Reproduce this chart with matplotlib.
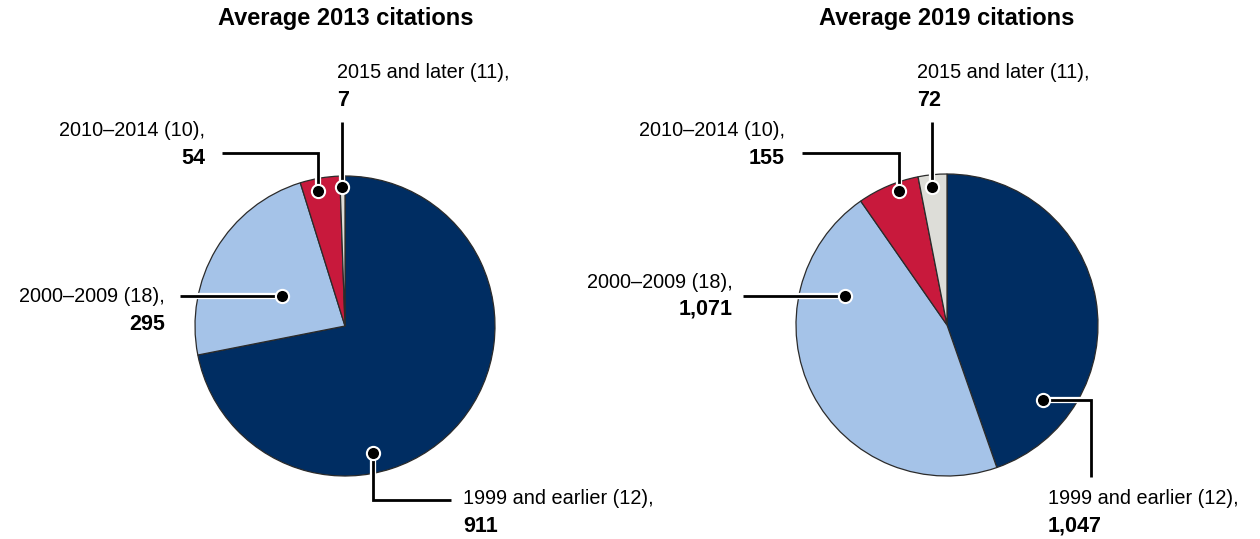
import matplotlib
matplotlib.use("Agg")
import matplotlib.pyplot as plt
import matplotlib.patheffects as pe

# Data
labels = ['1999 and earlier (12),', '2000\u20132009 (18),', '2010\u20132014 (10),', '2015 and later (11),']
cites_2013 = [911, 295, 54, 7]
cites_2019 = [1047, 1071, 155, 72]
titles = ['Average 2013 citations', 'Average 2019 citations']
colors = ['#002D62', '#A5C3E8', '#C8193C', '#DDDDD8']

W, H = 1260, 539
plt.rcParams['font.family'] = ['Liberation Sans', 'DejaVu Sans']

fig = plt.figure(figsize=(W / 100, H / 100), dpi=100)
ax = fig.add_axes([0, 0, 1, 1])

def fy(py):
    # convert pixel y (from top) to axes y
    return H - py

# pie layout: center x, center y, radius, title x
pies = [(345, 326, 150, 346), (947, 325, 151, 947)]

# callout layout per pie: (dot, path points, text x, text y line 1, text y line 2, ha)
callouts = [
    [((373, 453), [(373, 500), (451, 500)], 463, 499, 526, 'left'),
     ((282, 296), [(180, 296)], 165, 297, 324, 'right'),
     ((318, 191), [(318, 153), (222, 153)], 205, 131, 158, 'right'),
     ((342, 187), [(342, 122)], 337, 72, 100, 'left')],
    [((1043, 400), [(1091, 400), (1091, 477)], 1048, 499, 526, 'left'),
     ((845, 296), [(743, 296)], 733, 282, 309, 'right'),
     ((899, 191), [(899, 153), (802, 153)], 785, 131, 158, 'right'),
     ((932, 187), [(932, 122)], 917, 72, 100, 'left')],
]

halo = [pe.Stroke(linewidth=4.5, foreground='white'), pe.Normal()]

for (cx, cy, r, tx), vals, title, calls in zip(pies, [cites_2013, cites_2019], titles, callouts):
    ax.pie(vals, colors=colors, startangle=90, counterclock=False,
           center=(cx, fy(cy)), radius=r, frame=True,
           wedgeprops=dict(edgecolor='#2b2b2b', linewidth=0.9))
    ax.text(tx, fy(18), title, ha='center', va='center', fontsize=17, fontweight='bold')
    for lab, v, (dot, path, txx, ty1, ty2, ha) in zip(labels, vals, calls):
        xs = [dot[0]] + [p[0] for p in path]
        ys = [fy(dot[1])] + [fy(p[1]) for p in path]
        ax.plot(xs, ys, color='black', lw=2, solid_capstyle='butt',
                solid_joinstyle='miter', path_effects=halo, zorder=5)
        ax.plot(dot[0], fy(dot[1]), 'o', ms=9.5, color='black', mec='white', mew=1.5, zorder=6)
        ax.text(txx, fy(ty1), lab, ha=ha, va='center', fontsize=14.3)
        ax.text(txx, fy(ty2), f'{v:,}', ha=ha, va='center', fontsize=15.5, fontweight='bold')

ax.set_xlim(0, W)
ax.set_ylim(0, H)
ax.set_aspect('auto')
ax.axis('off')

fig.savefig('out.png', dpi=100, facecolor='white')
